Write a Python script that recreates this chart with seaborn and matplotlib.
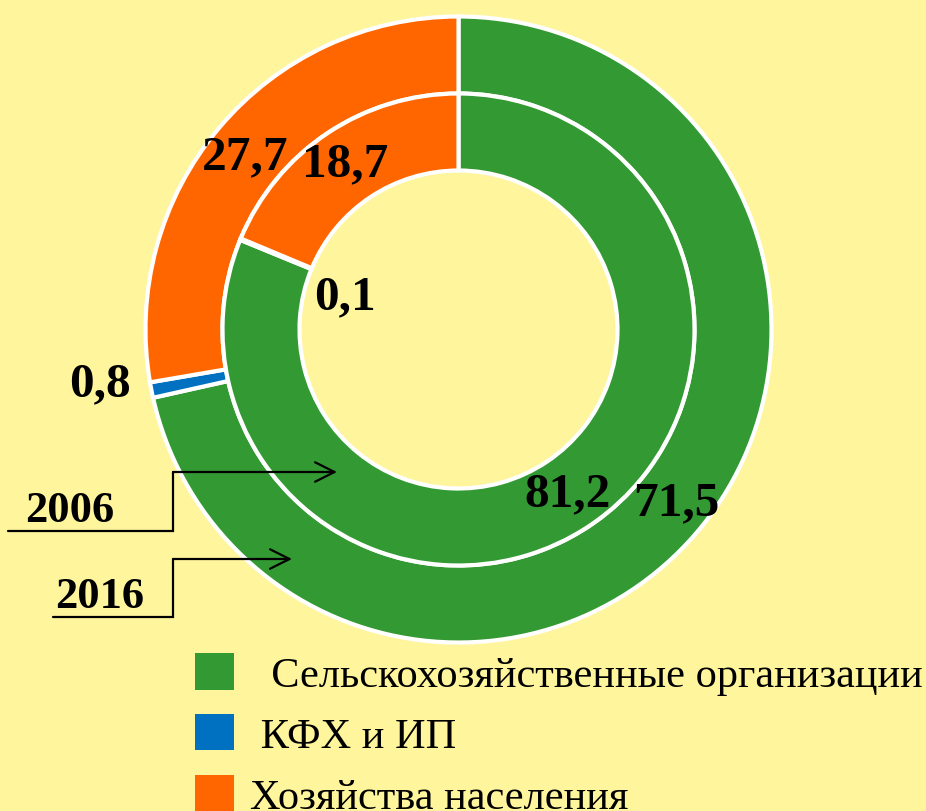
import matplotlib
matplotlib.use("Agg")
import seaborn as sb
import matplotlib.pyplot as plt
from matplotlib.patches import Patch

## two-ring donut: structure by farm type, 2006 (inner) and 2016 (outer)

categories = ["Сельскохозяйственные организации", "КФХ и ИП", "Хозяйства населения"]
legend_labels = ["  Сельскохозяйственные организации", " КФХ и ИП", "Хозяйства населения"]
share_2016 = [71.5, 0.8, 27.7]
share_2006 = [81.2, 0.1, 18.7]
years = ["2006", "2016"]

sb.set_style("white")
plt.rcParams["font.family"] = ["Liberation Serif", "DejaVu Serif"]
plt.rcParams["text.color"] = "black"

bg = "#FFF59D"
colors = sb.color_palette(["#339933", "#0070C0", "#FF6600"])

W, H = 926, 812
fig = plt.figure(figsize=(W / 100, H / 100), dpi=100, facecolor=bg)

# pie centre (458.5, 330.5) px, radius 313 px
cx, cy, R = 458.5, 330.5, 313
ax = fig.add_axes([(cx - R) / W, (H - cy - R) / H, 2 * R / W, 2 * R / H])
ax.set_facecolor(bg)

ring_w = 77 / R
edge = dict(edgecolor="white", linewidth=3)
ax.pie(share_2016, colors=colors, startangle=90, counterclock=False,
       radius=1.0, wedgeprops=dict(width=ring_w, **edge))
ax.pie(share_2006, colors=colors, startangle=90, counterclock=False,
       radius=1.0 - ring_w, wedgeprops=dict(width=ring_w, **edge))
ax.set_xlim(-1, 1)
ax.set_ylim(-1, 1)
ax.set_aspect("equal")
ax.axis("off")


def fmt(v):
    return f"{v:.1f}".replace(".", ",")


def px(x, y):
    # pixel position (top-left origin) -> pie data coords
    return (x - cx) / R, (cy - y) / R


label_pos_2016 = [(676, 503), (100, 384), (245, 157)]
label_pos_2006 = [(568, 494), (345, 297), (345, 164)]
for vals, pos in [(share_2016, label_pos_2016), (share_2006, label_pos_2006)]:
    for v, (x, y) in zip(vals, pos):
        tx, ty = px(x, y)
        ax.text(tx, ty, fmt(v), ha="center", va="center", fontsize=35.5,
                fontweight="bold", color="black", clip_on=False)

# overlay in pixel coords for the year call-outs
ov = fig.add_axes([0, 0, 1, 1], facecolor="none")
ov.set_xlim(0, W)
ov.set_ylim(H, 0)
ov.axis("off")

callouts = {"2006": dict(under=(8, 173, 532), up=473, tip=337, text=(70, 511)),
            "2016": dict(under=(53, 173, 618), up=560, tip=292, text=(100, 597))}
for yr in years:
    c = callouts[yr]
    x0, x1, yb = c["under"]
    ov.plot([x0, x1, x1], [yb, yb, c["up"]], color="black", lw=1.6,
            solid_joinstyle="miter")
    ov.annotate("", xy=(c["tip"], c["up"]), xytext=(x1, c["up"]),
                arrowprops=dict(arrowstyle="->,head_length=1.4,head_width=0.7",
                                color="black", lw=1.6, shrinkA=0, shrinkB=0,
                                mutation_scale=10))
    ov.text(c["text"][0], c["text"][1], yr, ha="center", va="center",
            fontsize=32, fontweight="bold", color="black")

handles = [Patch(facecolor=col, edgecolor="none") for col in colors]
fig.legend(handles, legend_labels, loc="upper left",
           bbox_to_anchor=(195 / W, 1 - 654 / H), frameon=False,
           prop=dict(size=30.5), labelcolor="black",
           handlelength=0.92, handleheight=0.95,
           handletextpad=0.38, labelspacing=0.45, borderaxespad=0,
           borderpad=0)

fig.savefig("out.png", dpi=100, facecolor=bg)
